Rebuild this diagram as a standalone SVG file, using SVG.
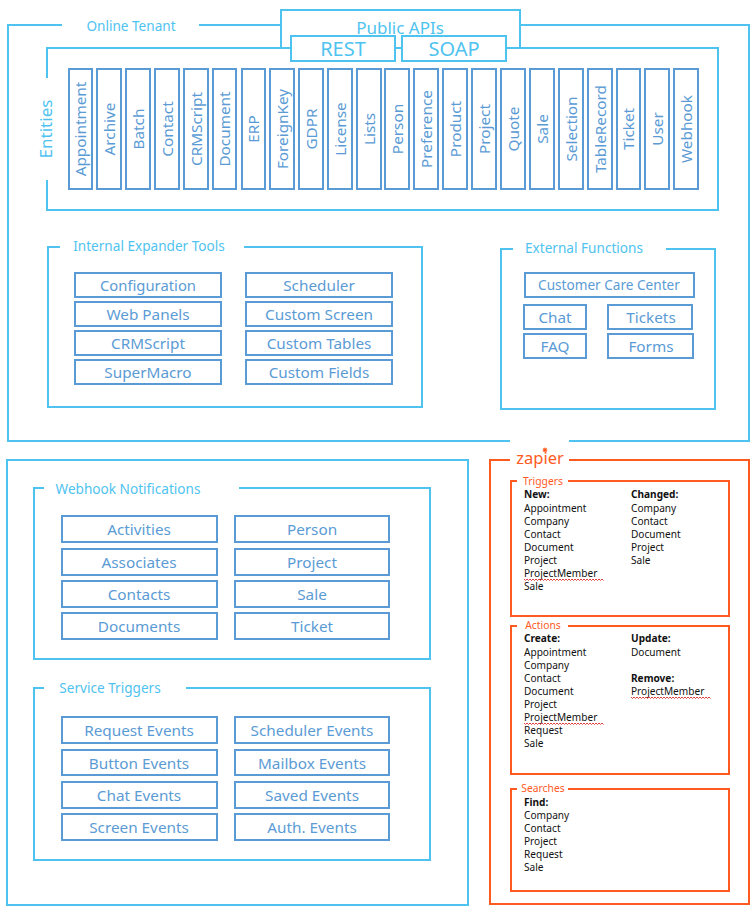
<svg xmlns="http://www.w3.org/2000/svg" width="755" height="922" viewBox="0 0 755 922">
<defs>
<style>
text{font-family:"Noto Sans","Open Sans","Liberation Sans",sans-serif}
.fr{fill:none;stroke:#4fc3f0;stroke-width:2}
.wf{fill:#fff;stroke:#4fc3f0;stroke-width:2}
.bx{fill:#fff;stroke:#5b9bd5;stroke-width:2}
.or{fill:none;stroke:#ff5a1f;stroke-width:2}
.lb{fill:#4fc3f0;font-size:13.6px;text-anchor:middle}
.big{fill:#4fc3f0;font-size:17px;text-anchor:middle}
.api{fill:#4fc3f0;font-size:20px;text-anchor:middle}
.t{fill:#5b9bd5;font-size:15.3px;text-anchor:middle}
.ol{fill:#ff5a1f;font-size:10.3px;text-anchor:middle}
.k{fill:#111;font-size:10.1px}
.b{font-weight:700}
.sq{fill:none;stroke:#e04040;stroke-width:1}
</style>
<path id="squig" d="M0 0l1.5 1.5 1.5-1.5 1.5 1.5 1.5-1.5 1.5 1.5 1.5-1.5 1.5 1.5 1.5-1.5 1.5 1.5 1.5-1.5 1.5 1.5 1.5-1.5 1.5 1.5 1.5-1.5 1.5 1.5 1.5-1.5 1.5 1.5 1.5-1.5 1.5 1.5 1.5-1.5 1.5 1.5 1.5-1.5 1.5 1.5 1.5-1.5 1.5 1.5 1.5-1.5 1.5 1.5 1.5-1.5 1.5 1.5 1.5-1.5 1.5 1.5 1.5-1.5 1.5 1.5 1.5-1.5 1.5 1.5 1.5-1.5 1.5 1.5 1.5-1.5 1.5 1.5 1.5-1.5 1.5 1.5 1.5-1.5 1.5 1.5 1.5-1.5 1.5 1.5 1.5-1.5 1.5 1.5 1.5-1.5 1.5 1.5 1.5-1.5 1.5 1.5 1.5-1.5 1.5 1.5" class="sq"/>
</defs>
<rect width="755" height="922" fill="#fff"/>
<g id="online-tenant">
<path class="fr" d="M62 25H8V441H510M569 441H749V25H520M199 25H281"/>
<text class="lb" x="131" y="31">Online Tenant</text>
</g>
<g id="entities">
<path class="fr" d="M47 78V48H718V210H47V180"/>
<text class="big" transform="translate(52 129) rotate(-90)">Entities</text>
</g>
<g id="public-apis">
<rect class="wf" x="281" y="10" width="239" height="38"/>
<text class="big" x="400" y="34">Public APIs</text>
</g>
<g id="rest"><rect class="wf" x="291" y="36" width="104" height="25"/><text class="api" x="343" y="55.500">REST</text></g>
<g id="soap"><rect class="wf" x="402" y="36" width="104" height="25"/><text class="api" x="454" y="55.500">SOAP</text></g>
<g id="entity-items">
<g id="e-appointment"><rect class="bx" x="69" y="69" width="23" height="120"/><text class="t" transform="translate(86 129) rotate(-90)">Appointment</text></g>
<g id="e-archive"><rect class="bx" x="97" y="69" width="24" height="120"/><text class="t" transform="translate(115 129) rotate(-90)">Archive</text></g>
<g id="e-batch"><rect class="bx" x="126" y="69" width="24" height="120"/><text class="t" transform="translate(144 129) rotate(-90)">Batch</text></g>
<g id="e-contact"><rect class="bx" x="155" y="69" width="24" height="120"/><text class="t" transform="translate(173 129) rotate(-90)">Contact</text></g>
<g id="e-crmscript"><rect class="bx" x="184" y="69" width="24" height="120"/><text class="t" transform="translate(202 129) rotate(-90)">CRMScript</text></g>
<g id="e-document"><rect class="bx" x="213" y="69" width="23" height="120"/><text class="t" transform="translate(230 129) rotate(-90)">Document</text></g>
<g id="e-erp"><rect class="bx" x="242" y="69" width="23" height="120"/><text class="t" transform="translate(259 129) rotate(-90)">ERP</text></g>
<g id="e-foreignkey"><rect class="bx" x="270" y="69" width="24" height="120"/><text class="t" transform="translate(288 129) rotate(-90)">ForeignKey</text></g>
<g id="e-gdpr"><rect class="bx" x="299" y="69" width="24" height="120"/><text class="t" transform="translate(317 129) rotate(-90)">GDPR</text></g>
<g id="e-license"><rect class="bx" x="328" y="69" width="24" height="120"/><text class="t" transform="translate(346 129) rotate(-90)">License</text></g>
<g id="e-lists"><rect class="bx" x="357" y="69" width="24" height="120"/><text class="t" transform="translate(375 129) rotate(-90)">Lists</text></g>
<g id="e-person"><rect class="bx" x="385" y="69" width="24" height="120"/><text class="t" transform="translate(403 129) rotate(-90)">Person</text></g>
<g id="e-preference"><rect class="bx" x="414" y="69" width="24" height="120"/><text class="t" transform="translate(432 129) rotate(-90)">Preference</text></g>
<g id="e-product"><rect class="bx" x="443" y="69" width="24" height="120"/><text class="t" transform="translate(461 129) rotate(-90)">Product</text></g>
<g id="e-project"><rect class="bx" x="472" y="69" width="24" height="120"/><text class="t" transform="translate(490 129) rotate(-90)">Project</text></g>
<g id="e-quote"><rect class="bx" x="501" y="69" width="24" height="120"/><text class="t" transform="translate(519 129) rotate(-90)">Quote</text></g>
<g id="e-sale"><rect class="bx" x="530" y="69" width="24" height="120"/><text class="t" transform="translate(548 129) rotate(-90)">Sale</text></g>
<g id="e-selection"><rect class="bx" x="559" y="69" width="24" height="120"/><text class="t" transform="translate(577 129) rotate(-90)">Selection</text></g>
<g id="e-tablerecord"><rect class="bx" x="588" y="69" width="24" height="120"/><text class="t" transform="translate(606 129) rotate(-90)">TableRecord</text></g>
<g id="e-ticket"><rect class="bx" x="617" y="69" width="23" height="120"/><text class="t" transform="translate(634 129) rotate(-90)">Ticket</text></g>
<g id="e-user"><rect class="bx" x="645" y="69" width="24" height="120"/><text class="t" transform="translate(663 129) rotate(-90)">User</text></g>
<g id="e-webhook"><rect class="bx" x="674" y="69" width="24" height="120"/><text class="t" transform="translate(692 129) rotate(-90)">Webhook</text></g>
</g>
<g id="internal-expander-tools">
<path class="fr" d="M60 247H48V407H422V247H244"/>
<text class="lb" x="149" y="251">Internal Expander Tools</text>
<g id="i-configuration"><rect class="bx" x="75" y="273" width="146" height="24"/><text class="t" x="148" y="291" textLength="96" lengthAdjust="spacingAndGlyphs">Configuration</text></g>
<g id="i-webpanels"><rect class="bx" x="75" y="302" width="146" height="24"/><text class="t" x="148" y="320">Web Panels</text></g>
<g id="i-crmscript"><rect class="bx" x="75" y="331" width="146" height="24"/><text class="t" x="148" y="349">CRMScript</text></g>
<g id="i-supermacro"><rect class="bx" x="75" y="360" width="146" height="24"/><text class="t" x="148" y="378">SuperMacro</text></g>
<g id="i-scheduler"><rect class="bx" x="246" y="273" width="146" height="24"/><text class="t" x="319" y="291">Scheduler</text></g>
<g id="i-customscreen"><rect class="bx" x="246" y="302" width="146" height="24"/><text class="t" x="319" y="320">Custom Screen</text></g>
<g id="i-customtables"><rect class="bx" x="246" y="331" width="146" height="24"/><text class="t" x="319" y="349">Custom Tables</text></g>
<g id="i-customfields"><rect class="bx" x="246" y="360" width="146" height="24"/><text class="t" x="319" y="378">Custom Fields</text></g>
</g>
<g id="external-functions">
<path class="fr" d="M513 249H501V409H715V249H666"/>
<text class="lb" x="584" y="253">External Functions</text>
<g id="x-ccc"><rect class="bx" x="525" y="273" width="169" height="24"/><text class="t" style="font-size:13.6px" x="609" y="290">Customer Care Center</text></g>
<g id="x-chat"><rect class="bx" x="524" y="305" width="62" height="24"/><text class="t" x="555" y="323">Chat</text></g>
<g id="x-tickets"><rect class="bx" x="608" y="305" width="84" height="24"/><text class="t" x="651" y="323">Tickets</text></g>
<g id="x-faq"><rect class="bx" x="524" y="334" width="62" height="24"/><text class="t" x="555" y="352">FAQ</text></g>
<g id="x-forms"><rect class="bx" x="608" y="334" width="85" height="24"/><text class="t" x="651" y="352">Forms</text></g>
</g>
<g id="outer-left"><rect class="fr" x="7" y="460" width="461" height="445"/></g>
<g id="webhook-notifications">
<path class="fr" d="M44 488H34V659H430V488H239"/>
<text class="lb" x="128" y="494">Webhook Notifications</text>
<g id="w-activities"><rect class="bx" x="62" y="516" width="155" height="26"/><text class="t" x="139" y="535">Activities</text></g>
<g id="w-associates"><rect class="bx" x="62" y="549" width="155" height="26"/><text class="t" x="139" y="568">Associates</text></g>
<g id="w-contacts"><rect class="bx" x="62" y="581" width="155" height="26"/><text class="t" x="139" y="600">Contacts</text></g>
<g id="w-documents"><rect class="bx" x="62" y="613" width="155" height="26"/><text class="t" x="139" y="632">Documents</text></g>
<g id="w-person"><rect class="bx" x="235" y="516" width="154" height="26"/><text class="t" x="312" y="535">Person</text></g>
<g id="w-project"><rect class="bx" x="235" y="549" width="154" height="26"/><text class="t" x="312" y="568">Project</text></g>
<g id="w-sale"><rect class="bx" x="235" y="581" width="154" height="26"/><text class="t" x="312" y="600">Sale</text></g>
<g id="w-ticket"><rect class="bx" x="235" y="613" width="154" height="26"/><text class="t" x="312" y="632">Ticket</text></g>
</g>
<g id="service-triggers">
<path class="fr" d="M44 688H34V860H430V688H186"/>
<text class="lb" x="110" y="693">Service Triggers</text>
<g id="s-request"><rect class="bx" x="62" y="717" width="155" height="26"/><text class="t" x="139" y="736">Request Events</text></g>
<g id="s-button"><rect class="bx" x="62" y="750" width="155" height="25"/><text class="t" x="139" y="769">Button Events</text></g>
<g id="s-chat"><rect class="bx" x="62" y="782" width="155" height="26"/><text class="t" x="139" y="801">Chat Events</text></g>
<g id="s-screen"><rect class="bx" x="62" y="814" width="155" height="26"/><text class="t" x="139" y="833">Screen Events</text></g>
<g id="s-scheduler"><rect class="bx" x="235" y="717" width="154" height="26"/><text class="t" x="312" y="736">Scheduler Events</text></g>
<g id="s-mailbox"><rect class="bx" x="235" y="750" width="154" height="25"/><text class="t" x="312" y="769">Mailbox Events</text></g>
<g id="s-saved"><rect class="bx" x="235" y="782" width="154" height="26"/><text class="t" x="312" y="801">Saved Events</text></g>
<g id="s-auth"><rect class="bx" x="235" y="814" width="154" height="26"/><text class="t" x="312" y="833">Auth. Events</text></g>
</g>
<g id="zapier">
<path class="or" d="M510 460H490V904H749V460H569"/>
<text x="540" y="464" style="fill:#ff5a1f;font-size:16.5px;text-anchor:middle">zapier</text>
<path d="M545 447l.6 1.5 1.5-.6-.6 1.5 1.5.6-1.5.6.6 1.5-1.5-.6-.6 1.5-.6-1.5-1.5.6.6-1.5-1.5-.6 1.500-.6-.6-1.500 1.500.6z" fill="#ff5a1f"/>
</g>
<g id="triggers">
<path class="or" d="M517 481H511V616H729V481H568"/>
<text class="ol" x="543" y="485">Triggers</text>
<text class="k"><tspan class="b" x="524" y="498">New:</tspan><tspan x="524" y="512">Appointment</tspan><tspan x="524" y="525">Company</tspan><tspan x="524" y="538">Contact</tspan><tspan x="524" y="551">Document</tspan><tspan x="524" y="564">Project</tspan><tspan x="524" y="577">ProjectMember</tspan><tspan x="524" y="590">Sale</tspan></text>
<use href="#squig" x="524" y="579"/>
<text class="k"><tspan class="b" x="631" y="498">Changed:</tspan><tspan x="631" y="512">Company</tspan><tspan x="631" y="525">Contact</tspan><tspan x="631" y="538">Document</tspan><tspan x="631" y="551">Project</tspan><tspan x="631" y="564">Sale</tspan></text>
</g>
<g id="actions">
<path class="or" d="M517 626H511V774H729V626H568"/>
<text class="ol" x="543" y="629">Actions</text>
<text class="k"><tspan class="b" x="524" y="642">Create:</tspan><tspan x="524" y="656">Appointment</tspan><tspan x="524" y="669">Company</tspan><tspan x="524" y="682">Contact</tspan><tspan x="524" y="695">Document</tspan><tspan x="524" y="708">Project</tspan><tspan x="524" y="721">ProjectMember</tspan><tspan x="524" y="734">Request</tspan><tspan x="524" y="747">Sale</tspan></text>
<use href="#squig" x="524" y="723"/>
<text class="k"><tspan class="b" x="631" y="642">Update:</tspan><tspan x="631" y="656">Document</tspan><tspan class="b" x="631" y="682">Remove:</tspan><tspan x="631" y="695">ProjectMember</tspan></text>
<use href="#squig" x="631" y="697"/>
</g>
<g id="searches">
<path class="or" d="M517 789H511V891H729V789H568"/>
<text class="ol" x="543" y="792">Searches</text>
<text class="k"><tspan class="b" x="524" y="806">Find:</tspan><tspan x="524" y="819">Company</tspan><tspan x="524" y="832">Contact</tspan><tspan x="524" y="845">Project</tspan><tspan x="524" y="858">Request</tspan><tspan x="524" y="871">Sale</tspan></text>
</g>
</svg>
